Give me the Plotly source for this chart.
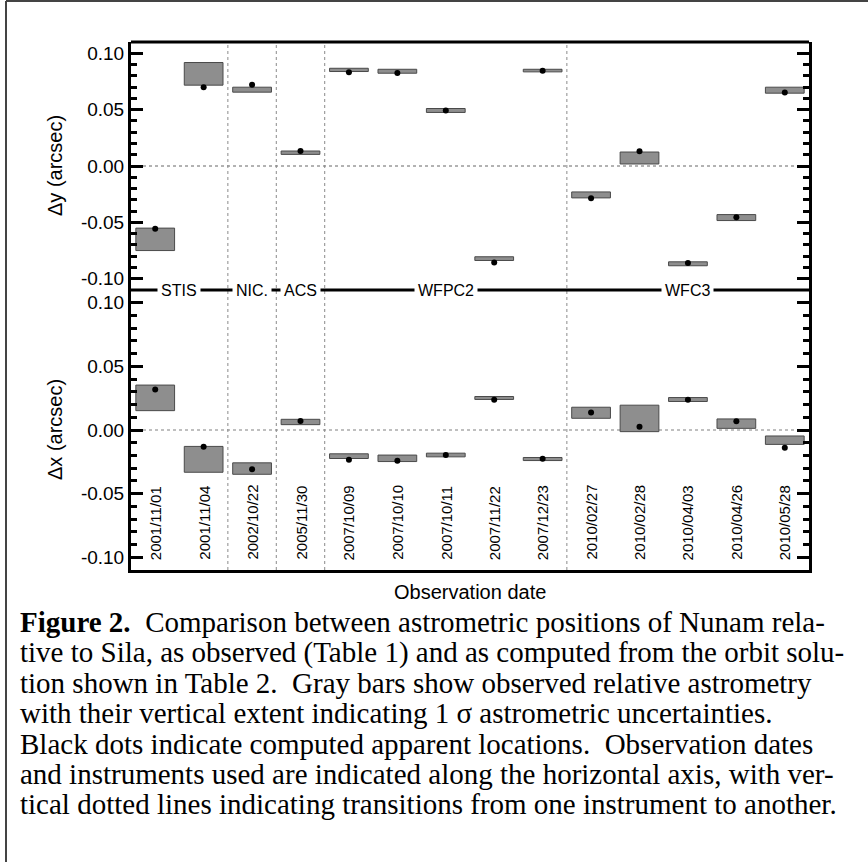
import plotly.graph_objects as go

# ---------------- data ----------------
dates = ["2001/11/01", "2001/11/04", "2002/10/22", "2005/11/30", "2007/10/09",
         "2007/10/10", "2007/10/11", "2007/11/22", "2007/12/23", "2010/02/27",
         "2010/02/28", "2010/04/03", "2010/04/26", "2010/05/28"]

# Delta y (arcsec): observed 1-sigma range and computed value
dy_lo = [-0.0750, 0.0717, 0.0655, 0.0103, 0.0838, 0.0823, 0.0475, -0.0838,
         0.0835, -0.0283, 0.0018, -0.0885, -0.0484, 0.0646]
dy_hi = [-0.0551, 0.0918, 0.0699, 0.0133, 0.0867, 0.0858, 0.0510, -0.0805,
         0.0858, -0.0230, 0.0124, -0.0850, -0.0431, 0.0699]
dy_calc = [-0.0557, 0.0699, 0.0720, 0.0132, 0.0832, 0.0826, 0.0493, -0.0855,
           0.0844, -0.0286, 0.0130, -0.0861, -0.0454, 0.0652]

# Delta x (arcsec)
dx_lo = [0.0152, -0.0332, -0.0348, 0.0042, -0.0224, -0.0248, -0.0211, 0.0240,
         -0.0240, 0.0092, -0.0013, 0.0224, 0.0013, -0.0113]
dx_hi = [0.0353, -0.0129, -0.0258, 0.0084, -0.0187, -0.0197, -0.0182, 0.0263,
         -0.0216, 0.0179, 0.0195, 0.0255, 0.0087, -0.0047]
dx_calc = [0.0318, -0.0132, -0.0308, 0.0071, -0.0234, -0.0242, -0.0197, 0.0237,
           -0.0226, 0.0137, 0.0026, 0.0237, 0.0069, -0.0140]

instruments = ["STIS", "NIC.", "ACS", "WFPC2", "WFC3"]
inst_first = [0, 2, 3, 4, 9]
inst_last = [1, 2, 3, 8, 13]

ytick_vals = [-0.10, -0.05, 0.00, 0.05, 0.10]
ytick_text = ["-0.10", "-0.05", "0.00", "0.05", "0.10"]
minor_vals = [-0.09, -0.08, -0.07, -0.06, -0.04, -0.03, -0.02, -0.01,
              0.01, 0.02, 0.03, 0.04, 0.06, 0.07, 0.08, 0.09]

caption = [
    "<b>Figure 2.</b>\u00a0 Comparison between astrometric positions of Nunam rela-",
    "tive to Sila, as observed (Table 1) and as computed from the orbit solu-",
    "tion shown in Table 2.\u00a0 Gray bars show observed relative astrometry",
    "with their vertical extent indicating 1 \u03c3 astrometric uncertainties.",
    "Black dots indicate computed apparent locations.\u00a0 Observation dates",
    "and instruments used are indicated along the horizontal axis, with ver-",
    "tical dotted lines indicating transitions from one instrument to another.",
]

# ---------------- layout geometry (pixels) ----------------
W, H = 868, 862
L, R, T, B = 131, 809, 42, 570
MID = 290


def px(x):
    return (x - L) / (R - L)


def py(y):
    return (B - y) / (B - T)


split = py(MID)
idx = list(range(len(dates)))
SANS = "Liberation Sans, Arial, Helvetica, sans-serif"
SERIF = "Liberation Serif, Times New Roman, serif"

fig = go.Figure()

bar_fill = "#8e8e8e"
bar_line = "#4a4a4a"

fig.add_trace(go.Bar(x=idx, y=[h - l for h, l in zip(dy_hi, dy_lo)], base=dy_lo,
                     width=0.8, xaxis="x", yaxis="y",
                     marker=dict(color=bar_fill, line=dict(color=bar_line, width=1))))
fig.add_trace(go.Scatter(x=idx, y=dy_calc, mode="markers", xaxis="x", yaxis="y",
                         marker=dict(color="black", size=6)))
fig.add_trace(go.Bar(x=idx, y=[h - l for h, l in zip(dx_hi, dx_lo)], base=dx_lo,
                     width=0.8, xaxis="x", yaxis="y2",
                     marker=dict(color=bar_fill, line=dict(color=bar_line, width=1))))
fig.add_trace(go.Scatter(x=idx, y=dx_calc, mode="markers", xaxis="x", yaxis="y2",
                         marker=dict(color="black", size=6)))

yax = dict(range=[-0.11, 0.11], tickmode="array", tickvals=ytick_vals,
           ticktext=ytick_text, showline=True, linecolor="black", linewidth=3,
           mirror="ticks", ticks="inside", ticklen=12, tickwidth=3,
           tickcolor="black", showgrid=False, zeroline=False,
           tickfont=dict(family=SANS, size=19, color="black"),
           minor=dict(tickmode="array", tickvals=minor_vals, ticks="inside",
                      ticklen=6, tickwidth=3, tickcolor="black", showgrid=False),
           anchor="x", fixedrange=True)

fig.update_layout(
    width=W, height=H,
    margin=dict(l=L, r=W - R, t=T, b=H - B, pad=0, autoexpand=False),
    paper_bgcolor="white", plot_bgcolor="white",
    showlegend=False, barmode="overlay",
    xaxis=dict(range=[-0.5, len(dates) - 0.5], showticklabels=False, ticks="",
               showline=True, linecolor="black", linewidth=3, showgrid=False,
               zeroline=False, anchor="y2", fixedrange=True),
    yaxis=dict(domain=[split, 1], **yax),
    yaxis2=dict(domain=[0, split], **yax),
)

shapes = []
# zero lines
shapes.append(dict(type="line", xref="paper", x0=0, x1=1, yref="y", y0=0, y1=0,
                   line=dict(color="#666666", width=1, dash="dot"), layer="below"))
shapes.append(dict(type="line", xref="paper", x0=0, x1=1, yref="y2", y0=0, y1=0,
                   line=dict(color="#aaaaaa", width=1.5, dash="dot"), layer="below"))
# instrument transitions
for last in inst_last[:-1]:
    shapes.append(dict(type="line", xref="x", x0=last + 0.5, x1=last + 0.5,
                       yref="paper", y0=0, y1=1,
                       line=dict(color="#8a8a8a", width=1, dash="dot"), layer="below"))
# instrument line between panels
shapes.append(dict(type="line", xref="paper", x0=0, x1=1, yref="paper",
                   y0=split, y1=split, line=dict(color="black", width=3)))
# top frame
shapes.append(dict(type="line", xref="paper", x0=0, x1=1, yref="paper",
                   y0=1, y1=1, line=dict(color="black", width=3)))
# outer figure border (left + top)
shapes.append(dict(type="line", xref="paper", x0=px(6), x1=px(6), yref="paper",
                   y0=py(1), y1=py(H), line=dict(color="#444444", width=2)))
shapes.append(dict(type="line", xref="paper", x0=px(6), x1=px(W), yref="paper",
                   y0=py(1), y1=py(1), line=dict(color="#444444", width=2)))

annotations = []
for name, a, b in zip(instruments, inst_first, inst_last):
    annotations.append(dict(x=(a + b) / 2, xref="x", y=split, yref="paper",
                            text=name, showarrow=False, bgcolor="white",
                            borderpad=3, xanchor="center", yanchor="middle",
                            font=dict(family=SANS, size=16, color="black")))
for i, d in zip(idx, dates):
    annotations.append(dict(x=i, xref="x", y=py(562), yref="paper", text=d,
                            textangle=-90, showarrow=False, xanchor="center",
                            yanchor="bottom",
                            font=dict(family=SANS, size=15, color="black")))
annotations.append(dict(x=0.5, xref="paper", y=py(592), yref="paper",
                        text="Observation date", showarrow=False,
                        xanchor="center", yanchor="middle",
                        font=dict(family=SANS, size=20, color="black")))
annotations.append(dict(x=px(55), xref="paper", y=(split + 1) / 2, yref="paper",
                        text="\u0394y (arcsec)", textangle=-90, showarrow=False,
                        xanchor="center", yanchor="middle",
                        font=dict(family=SANS, size=20, color="black")))
annotations.append(dict(x=px(55), xref="paper", y=split / 2, yref="paper",
                        text="\u0394x (arcsec)", textangle=-90, showarrow=False,
                        xanchor="center", yanchor="middle",
                        font=dict(family=SANS, size=20, color="black")))
line_y = [622, 652, 683, 713, 744, 774, 804]
for t, yy in zip(caption, line_y):
    annotations.append(dict(x=px(18), xref="paper", y=py(yy), yref="paper",
                            text=t, showarrow=False, xanchor="left",
                            yanchor="middle",
                            font=dict(family=SERIF, size=29, color="black")))

fig.update_layout(shapes=shapes, annotations=annotations)
fig.write_html("out.html")
